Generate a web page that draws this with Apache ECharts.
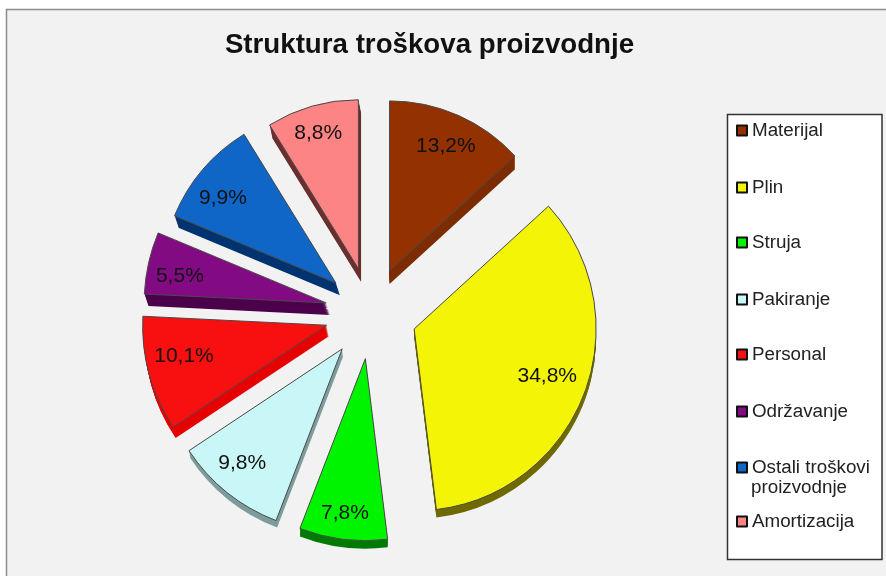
<!DOCTYPE html>
<html>
<head>
<meta charset="utf-8">
<title>Struktura troškova proizvodnje</title>
<style>
  html, body { margin: 0; padding: 0; background: #fff; }
  #chart { width: 886px; height: 576px; }
</style>
<script src="https://cdn.jsdelivr.net/npm/echarts@6/dist/echarts.min.js"></script>
</head>
<body>
<div id="chart"></div>
<script>
const titleText = 'Struktura troškova proizvodnje'
const categories = ['Materijal', 'Plin', 'Struja', 'Pakiranje', 'Personal', 'Održavanje', 'Ostali troškovi proizvodnje', 'Amortizacija']
const values = [13.2, 34.8, 7.8, 9.8, 10.1, 5.5, 9.9, 8.8]
const topColors = ['#933100', '#f4f406', '#00f400', '#c9f6f6', '#f80f0f', '#820a82', '#0f66c6', '#fc8484']
const sideColors = ['#7c2c00', '#6f6a00', '#007a00', '#7f9c9c', '#e60000', '#4c004c', '#003470', '#6a2f2f']
const legendTops = [130, 187, 242, 299, 354, 411, 467, 521]

// the original is a 3D pie seen in perspective, so each slice gets its own size
const sliceRadius = [170, 182, 182, 184, 184, 182, 175, 169]
const labelRadius = [139, 141, 156, 152, 146, 150, 143, 144]
const labelShift = [[-1, 5], [-2, -3], [-1, -3], [-3, -7], [1, -9], [3, 7], [-2, 10], [0, 6]]
const sliceDepth = [13, 8, 8, 7, 11, 12, 12, 13]
const sideShift = [0, 0, 0, 0.15, 0.2, 0.33, 0.33, 0.2]

const center = [371, 313]
const explode = 46
const font = '"Liberation Sans", Arial, sans-serif'

const pieBase = {
    type: 'pie',
    startAngle: 90,
    clockwise: true,
    selectedMode: 'multiple',
    selectedOffset: explode,
    avoidLabelOverlap: false,
    silent: true,
    animation: false,
    labelLine: { show: false },
    emphasis: { disabled: true },
    label: { show: false }
}

// all slices are kept so the angles stay right, only slice "only" is painted
function sliceData(only, color, border) {
    return categories.map((name, i) => {
        const style = i === only
            ? { color: color, borderColor: border || color, borderWidth: border ? 1 : 0 }
            : { color: 'transparent', borderWidth: 0 }
        return {
            name: name,
            value: values[i],
            selected: true,
            itemStyle: style,
            select: { itemStyle: style }
        }
    })
}

const series = []
categories.forEach((name, i) => {
    // side wall: the slice stacked downwards
    for (let k = sliceDepth[i]; k >= 1; k--) {
        series.push({
            ...pieBase,
            z: 2,
            center: [center[0] + k * sideShift[i], center[1] + k],
            radius: [0, sliceRadius[i]],
            data: sliceData(i, sideColors[i])
        })
    }
    // top face
    series.push({
        ...pieBase,
        z: 5,
        center: center,
        radius: [0, sliceRadius[i]],
        data: sliceData(i, topColors[i], '#4a4a4a')
    })
    // value label, on a see-through ring so it sits near the rim
    series.push({
        ...pieBase,
        z: 6,
        center: [center[0] + labelShift[i][0], center[1] + labelShift[i][1]],
        radius: [labelRadius[i] - 20, labelRadius[i] + 20],
        label: {
            show: true,
            position: 'inside',
            color: '#111',
            fontFamily: font,
            fontSize: 21,
            formatter: p => p.dataIndex === i ? String(p.value).replace('.', ',') + '%' : ''
        },
        data: sliceData(-1)
    })
})

const legends = categories.map((name, i) => ({
    data: [{ name: name, icon: 'rect', itemStyle: { color: topColors[i], borderColor: '#111', borderWidth: 2 } }],
    left: 736,
    top: legendTops[i] - 9,
    orient: 'vertical',
    selectedMode: false,
    itemWidth: 10,
    itemHeight: 10,
    padding: [0, 0, 0, 0],
    textStyle: { fontFamily: font, fontSize: 18.8, color: '#222' },
    formatter: n => n.split(' proizvodnje')[0]
}))

const myChart = echarts.init(document.getElementById('chart'), null, { renderer: 'canvas' })
myChart.setOption({
    animation: false,
    backgroundColor: '#fff',
    title: {
        text: titleText,
        left: 424.5,
        top: 26,
        textAlign: 'center',
        textStyle: { fontFamily: font, fontSize: 27.7, fontWeight: 'bold', color: '#111' }
    },
    legend: legends,
    graphic: [
        {
            type: 'rect', z: -10, silent: true,
            shape: { x: 6.5, y: 9.5, width: 890, height: 580 },
            style: { fill: '#f2f2f2', stroke: '#8a8a8a', lineWidth: 1.5 }
        },
        {
            type: 'rect', z: -9, silent: true,
            shape: { x: 727.5, y: 114.5, width: 154.5, height: 445 },
            style: { fill: '#fff', stroke: '#333', lineWidth: 1.5 }
        },
        {
            type: 'text', z: 10, silent: true, x: 751, y: 478,
            style: { text: 'proizvodnje', font: '18.8px ' + font, fill: '#222' }
        }
    ],
    series: series
})
</script>
</body>
</html>
